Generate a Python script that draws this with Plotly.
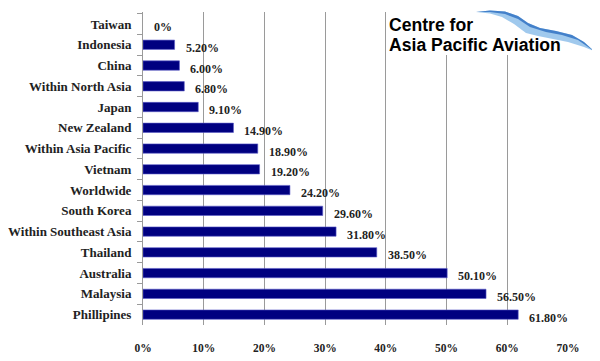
import plotly.graph_objects as go

categories = ["Taiwan", "Indonesia", "China", "Within North Asia", "Japan",
              "New Zealand", "Within Asia Pacific", "Vietnam", "Worldwide",
              "South Korea", "Within Southeast Asia", "Thailand", "Australia",
              "Malaysia", "Phillipines"]
values = [0.0, 5.2, 6.0, 6.8, 9.1, 14.9, 18.9, 19.2, 24.2, 29.6, 31.8, 38.5, 50.1, 56.5, 61.8]
labels = ["0%", "5.20%", "6.00%", "6.80%", "9.10%", "14.90%", "18.90%", "19.20%",
          "24.20%", "29.60%", "31.80%", "38.50%", "50.10%", "56.50%", "61.80%"]
x_ticks = [0, 10, 20, 30, 40, 50, 60, 70]
x_tick_text = ["0%", "10%", "20%", "30%", "40%", "50%", "60%", "70%"]

SERIF = "Liberation Serif"
OFF = 8  # page body margin
W, H = 600 - OFF, 361 - OFF
L, R, T, B = 143 - OFF, 32, 12 - OFF, 36
pw, ph = W - L - R, H - T - B

def px(x):
    return (x - OFF - L) / pw

def py(y):
    return (H - B - (y - OFF)) / ph

fig = go.Figure()
fig.add_trace(go.Bar(
    x=values, y=categories, orientation="h",
    marker=dict(color="rgb(0,0,128)",
                line=dict(color="rgb(90,90,200)", width=[0 if v == 0 else 0.6 for v in values])),
    width=0.45,
    hoverinfo="skip",
))

annotations = []
for c, v, t in zip(categories, values, labels):
    annotations.append(dict(
        x=v, y=c, xref="x", yref="y", text=t, showarrow=False,
        xanchor="left", yanchor="middle", xshift=9, yshift=-3,
        font=dict(family=SERIF, size=12, color="#222", weight="bold"),
    ))

# logo text
annotations.append(dict(
    x=px(387), y=py(25), xref="paper", yref="paper",
    text="Centre for", showarrow=False, xanchor="left", yanchor="middle",
    font=dict(family="Liberation Sans", size=17.6, color="black", weight="bold"),
))
annotations.append(dict(
    x=px(387), y=py(45), xref="paper", yref="paper",
    text="Asia Pacific Aviation", showarrow=False, xanchor="left", yanchor="middle",
    font=dict(family="Liberation Sans", size=17.6, color="black", weight="bold"),
))

def path(points):
    return "M " + " L ".join(f"{px(a)},{py(b)}" for a, b in points) + " Z"

swoosh = [(476, 12), (490, 10.5), (505, 11.5), (518, 16), (528, 23), (540, 28),
          (556, 31), (572, 35), (584, 42), (594, 51), (584, 47), (568, 42),
          (553, 39), (538, 36), (526, 33), (514, 24), (502, 17), (490, 13.5)]
swoosh_top = [(476, 12), (490, 10.5), (505, 11.5), (518, 16), (528, 23), (540, 28),
              (556, 31), (572, 35), (584, 42), (594, 51), (578, 40), (562, 35),
              (546, 32), (530, 27), (518, 19), (505, 14), (490, 12)]

shapes = [
    dict(type="rect", xref="paper", yref="paper", x0=px(388), x1=px(600),
         y0=py(55), y1=py(0), fillcolor="white", line=dict(width=0), layer="above"),
    dict(type="path", xref="paper", yref="paper", path=path(swoosh),
         fillcolor="rgba(150,195,235,0.9)", line=dict(width=0), layer="above"),
    dict(type="path", xref="paper", yref="paper", path=path(swoosh_top),
         fillcolor="rgba(50,115,195,0.85)", line=dict(width=0), layer="above"),
]

fig.update_layout(
    width=W, height=H,
    margin=dict(l=L, r=R, t=T, b=B, autoexpand=False),
    paper_bgcolor="white", plot_bgcolor="white",
    showlegend=False,
    annotations=annotations,
    shapes=shapes,
    xaxis=dict(
        range=[0, 70], tickvals=x_ticks, ticktext=x_tick_text,
        showgrid=True, gridcolor="#9a9a9a", gridwidth=1,
        zeroline=False, showline=False, ticks="",
        ticklabelstandoff=14,
        tickfont=dict(family=SERIF, size=11.5, color="#222", weight="bold"),
        fixedrange=True, automargin=False,
    ),
    yaxis=dict(
        type="category", autorange="reversed",
        showline=True, linecolor="#9a9a9a", linewidth=1,
        ticks="outside", tickson="boundaries", ticklen=5, tickcolor="#9a9a9a",
        showgrid=False, ticklabelstandoff=8,
        tickfont=dict(family=SERIF, size=13, color="#222", weight="bold"),
        fixedrange=True, automargin=False,
    ),
)

fig.write_html("out.html")
